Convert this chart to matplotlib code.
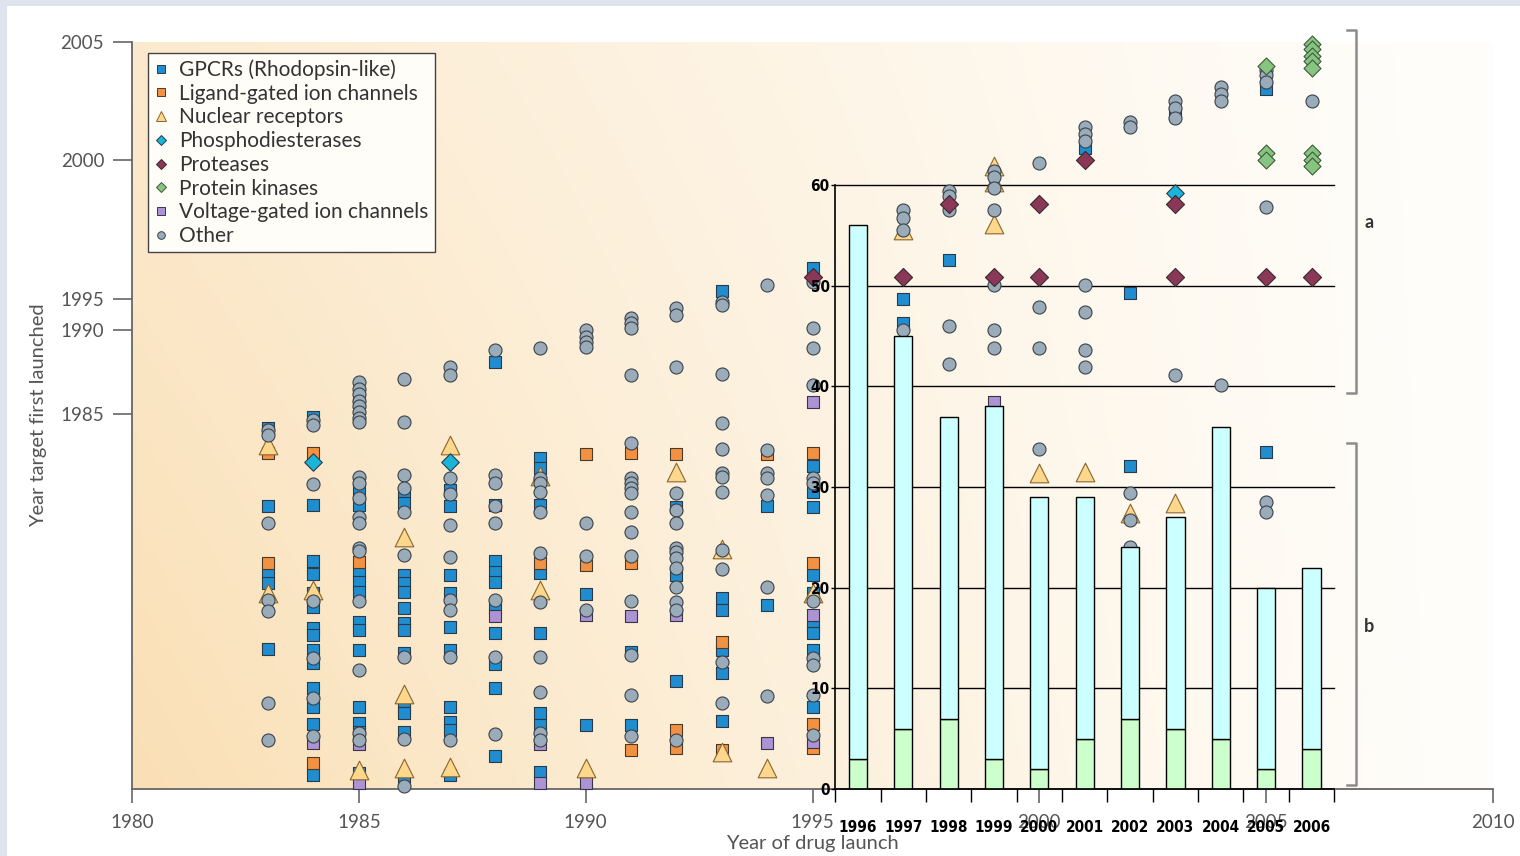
import numpy as np
import matplotlib.pyplot as plt
from matplotlib.lines import Line2D
from matplotlib.patches import Rectangle

plt.rcParams['font.family'] = ['Lato', 'DejaVu Sans']

# year of drug launch -> years the drug targets were first launched
gpcr = {
    1983: [1982.2, 1966.6, 1953.2, 1951.2, 1938.0],
    1984: [1984.4, 1966.8, 1955.6, 1953.0, 1949.2, 1946.4, 1942.2, 1940.8, 1937.8,
           1935.2, 1930.2, 1926.4, 1923.0, 1912.8],
    1985: [1985.7, 1969.8, 1966.8, 1953.4, 1951.4, 1949.4, 1943.4, 1941.8, 1937.8,
           1926.4, 1923.2, 1921.4, 1913.2],
    1986: [1969.2, 1967.2, 1952.8, 1951.2, 1949.4, 1946.2, 1943.2, 1941.8, 1937.2,
           1926.2, 1925.2, 1921.4, 1912.4],
    1987: [1969.8, 1966.6, 1952.8, 1949.2, 1942.4, 1937.8, 1926.4, 1923.4, 1921.8, 1912.8],
    1988: [1988.1, 1966.8, 1955.6, 1953.4, 1951.4, 1946.2, 1941.2, 1935.0, 1930.2, 1916.6],
    1989: [1976.2, 1974.2, 1966.8, 1953.2, 1941.2, 1925.2, 1922.8, 1913.4],
    1990: [1949.0, 1922.8],
    1991: [1937.4, 1922.8],
    1992: [1966.4, 1952.8, 1931.6],
    1993: [1995.3, 1948.2, 1945.8, 1937.8, 1933.2, 1923.6],
    1994: [1966.6, 1946.8],
    1995: [1996.1, 1974.6, 1969.4, 1966.4, 1952.8, 1949.2, 1942.4, 1941.2, 1937.8, 1926.4],
    1997: [1995.0, 1991.1],
    1998: [1996.4],
    2001: [2000.5],
    2002: [1995.2, 1974.6],
    2003: [2002.0],
    2005: [2003.0, 1977.4],
}

ligand_gated = {
    1983: [1977.2, 1955.2],
    1984: [1977.2, 1915.2],
    1985: [1955.4],
    1989: [1955.2],
    1990: [1977.0, 1954.8],
    1991: [1977.2, 1955.2, 1917.8],
    1992: [1977.0, 1921.8, 1918.2],
    1993: [1939.4, 1917.8],
    1994: [1977.0],
    1995: [1977.2, 1955.2, 1923.0, 1918.2],
}

nuclear = {
    1983: [1978.8, 1949.2],
    1984: [1949.8],
    1985: [1913.8],
    1986: [1960.4, 1929.0, 1914.2],
    1987: [1978.8, 1914.4],
    1989: [1972.6, 1949.8],
    1990: [1914.2],
    1992: [1973.4],
    1993: [1958.0, 1917.4],
    1994: [1914.2],
    1995: [1949.2],
    1997: [1997.5],
    1999: [1999.8, 1999.2, 1997.7],
    2000: [1973.2],
    2001: [1973.4],
    2002: [1965.2],
    2003: [1967.2],
}

pde = {
    1984: [1975.4],
    1987: [1975.4],
    2003: [1998.8],
}

proteases = {
    1995: [1995.8],
    1997: [1995.8],
    1998: [1998.4],
    1999: [1995.8],
    2000: [1998.4, 1995.8],
    2001: [2000.0],
    2003: [1998.4, 1995.8],
    2005: [1995.8],
    2006: [1995.8],
}

kinases = {
    2005: [2004.0, 2000.3, 2000.0],
    2006: [2004.9, 2004.7, 2004.4, 2004.2, 2003.9, 2000.3, 2000.0, 1999.8],
}

voltage_gated = {
    1984: [1919.2],
    1985: [1919.0, 1911.2],
    1988: [1944.6],
    1989: [1919.0, 1911.2],
    1990: [1944.8, 1911.2],
    1991: [1944.6],
    1992: [1944.8],
    1994: [1919.2],
    1995: [1985.7, 1944.8, 1919.4],
    1999: [1985.7],
}

other = {
    1983: [1981.8, 1980.8, 1963.2, 1947.8, 1945.6, 1927.2, 1919.8],
    1984: [1983.8, 1982.8, 1971.0, 1947.6, 1936.2, 1928.2, 1920.6],
    1985: [1986.9, 1986.5, 1986.2, 1985.8, 1985.5, 1985.1, 1984.2, 1983.4, 1972.4,
           1971.2, 1968.2, 1964.4, 1963.2, 1958.2, 1957.6, 1947.6, 1933.8, 1921.2, 1919.8],
    1986: [1987.1, 1983.4, 1972.8, 1970.2, 1965.4, 1956.8, 1936.4, 1920.0, 1910.6],
    1987: [1987.8, 1987.3, 1972.2, 1969.0, 1962.8, 1956.4, 1947.8, 1945.8, 1936.4, 1919.8],
    1988: [1988.8, 1972.8, 1971.2, 1966.6, 1963.2, 1947.8, 1936.4, 1921.0],
    1989: [1988.9, 1972.2, 1971.2, 1969.4, 1965.4, 1957.2, 1947.4, 1936.4, 1929.4,
           1921.2, 1919.8],
    1990: [1990.0, 1989.6, 1989.3, 1989.0, 1963.2, 1956.6, 1945.8],
    1991: [1991.9, 1991.1, 1990.3, 1987.3, 1979.2, 1972.2, 1971.2, 1970.2, 1969.2,
           1965.4, 1961.4, 1956.6, 1947.6, 1936.8, 1928.8, 1920.6],
    1992: [1993.5, 1992.4, 1987.8, 1969.2, 1965.8, 1963.2, 1958.2, 1957.4, 1956.2,
           1954.2, 1950.4, 1947.4, 1945.8, 1919.8],
    1993: [1994.5, 1994.0, 1987.4, 1983.2, 1978.0, 1973.2, 1972.4, 1969.4, 1957.8,
           1954.0, 1935.4, 1927.2],
    1994: [1995.5, 1977.8, 1973.2, 1972.2, 1968.8, 1950.4, 1928.6],
    1995: [1995.6, 1990.3, 1988.9, 1986.7, 1972.2, 1971.2, 1947.6, 1936.2, 1934.8,
           1928.8, 1920.8],
    1997: [1998.2, 1997.9, 1997.5, 1990.0],
    1998: [1998.9, 1998.7, 1998.2, 1990.6, 1988.0],
    1999: [1999.6, 1999.4, 1999.0, 1998.2, 1995.5, 1990.0, 1988.9],
    2000: [1999.9, 1993.7, 1988.9, 1978.0],
    2001: [2001.4, 2001.1, 2000.8, 1995.5, 1992.9, 1988.8, 1987.8],
    2002: [2001.6, 2001.4, 1969.2, 1963.8, 1958.4],
    2003: [2002.5, 2002.2, 2001.8, 1987.3],
    2004: [2003.1, 2002.8, 2002.5, 1986.7],
    2005: [2003.8, 2003.6, 2003.3, 1998.3, 1967.4, 1965.4],
    2006: [2002.5],
}

# inset: drugs launched per year (total, and the green part at the base)
bar_years = [1996, 1997, 1998, 1999, 2000, 2001, 2002, 2003, 2004, 2005, 2006]
bar_totals = [56, 45, 37, 38, 29, 29, 24, 27, 36, 20, 22]
bar_green = [3, 6, 7, 3, 2, 5, 7, 6, 5, 2, 4]

# the target-year axis is stretched piecewise
year_knots = [1910, 1985, 1990, 1995, 2000, 2005]
axis_knots = [0, 375, 459, 490, 629, 747]


def to_axis(y):
    return np.interp(y, year_knots, axis_knots)


def from_axis(p):
    return np.interp(p, axis_knots, year_knots)


series = [
    ('GPCRs (Rhodopsin-like)', gpcr, 's', '#1f8dcf', '#2b3a48', 80, 3),
    ('Ligand-gated ion channels', ligand_gated, 's', '#f29142', '#4a3a2a', 80, 3),
    ('Nuclear receptors', nuclear, '^', '#fdd78c', '#8a6630', 180, 4),
    ('Phosphodiesterases', pde, 'D', '#1ab3d9', '#2b3a48', 80, 6),
    ('Proteases', proteases, 'D', '#8b3858', '#3a2a30', 85, 6),
    ('Protein kinases', kinases, 'D', '#86c47f', '#3f5a3b', 75, 6),
    ('Voltage-gated ion channels', voltage_gated, 's', '#ab93d4', '#3a3448', 80, 3),
    ('Other', other, 'o', '#9aabb9', '#3b4249', 88, 5),
]

fig = plt.figure(figsize=(15.2, 8.56), dpi=100, facecolor='#dfe3ee')
fig.add_artist(Rectangle((7 / 1520, 0), 1 - 7 / 1520, 1 - 6 / 856,
                         transform=fig.transFigure, facecolor='white',
                         edgecolor='none', zorder=-10))

pos = [132 / 1520, 67 / 856, 1361 / 1520, 747 / 856]

# warm background wash, strongest at the lower left
bg = fig.add_axes(pos, zorder=-1)
u, v = np.meshgrid(np.linspace(0, 1, 400), np.linspace(0, 1, 250))
w = np.clip((1 - u) ** 1.15 * (1 - 0.35 * v), 0, 1)[..., None]
orange = np.array([0.98, 0.875, 0.71])
white = np.array([1.0, 0.996, 0.985])
bg.imshow(white + (orange - white) * w, origin='lower', aspect='auto',
          extent=(0, 1, 0, 1), interpolation='bilinear')
bg.axis('off')

ax = fig.add_axes(pos)
ax.patch.set_visible(False)
ax.set_yscale('function', functions=(to_axis, from_axis))

for label, data, marker, face, edge, size, z in series:
    xs = [yr for yr, vals in data.items() for _ in vals]
    ys = [val for vals in data.values() for val in vals]
    ax.scatter(xs, ys, marker=marker, s=size, facecolor=face, edgecolor=edge,
               linewidth=0.8, zorder=z, clip_on=False)

ax.set_xlim(1980, 2010)
ax.set_ylim(1910, 2005)
ax.set_xticks(range(1980, 2011, 5))
ax.set_yticks([1985, 1990, 1995, 2000, 2005])
ax.tick_params(axis='both', color='#666666', width=1.2, labelcolor='#555555',
               labelsize=13.5)
ax.tick_params(axis='x', length=10, pad=8)
ax.tick_params(axis='y', length=14, pad=6)
for side in ['top', 'right']:
    ax.spines[side].set_visible(False)
for side in ['left', 'bottom']:
    ax.spines[side].set_color('#666666')
    ax.spines[side].set_linewidth(1.3)

ax.set_ylabel('Year target first launched', fontsize=14.5, color='#555555')
ax.yaxis.set_label_coords(-0.0625, 0.5)
ax.set_xlabel('Year of drug launch', fontsize=14.5, color='#555555')
ax.xaxis.set_label_coords(0.5, -0.062)

handles = [Line2D([], [], linestyle='none', marker=m, markerfacecolor=f,
                  markeredgecolor=e, markeredgewidth=0.7,
                  markersize=7 if m == '^' else 5.5)
           for _, _, m, f, e, _, _ in series]
leg = ax.legend(handles, [s[0] for s in series], loc='upper left',
                bbox_to_anchor=(148 / 1520, 1 - 53 / 856),
                bbox_transform=fig.transFigure, borderaxespad=0,
                fontsize=15, frameon=True, fancybox=False, framealpha=1,
                handlelength=0.6, handletextpad=0.6, labelspacing=0.18,
                borderpad=0.3)
leg.get_frame().set_facecolor('#fffdf7')
leg.get_frame().set_edgecolor('#444444')
leg.get_frame().set_linewidth(1.0)
leg.set_zorder(10)
for t in leg.get_texts():
    t.set_color('#333333')

# inset bar chart sharing the launch-year positions
x0, x1 = 1995.5, 2006.5
ileft = pos[0] + (x0 - 1980) / 30 * pos[2]
iwidth = (x1 - x0) / 30 * pos[2]
inset = fig.add_axes([ileft, pos[1], iwidth, 604 / 856], zorder=2)
inset.patch.set_visible(False)
inset.set_xlim(x0, x1)
inset.set_ylim(0, 60)

for val in range(10, 61, 10):
    ax.plot([x0, x1], [val, val], transform=inset.transData,
            color='black', linewidth=1.0, zorder=1)

upper = [t - g for t, g in zip(bar_totals, bar_green)]
inset.bar(bar_years, bar_green, width=0.4, color='#ccffcc',
          edgecolor='black', linewidth=1.0)
inset.bar(bar_years, upper, bottom=bar_green, width=0.4, color='#ccffff',
          edgecolor='black', linewidth=1.0)

narrow = dict(family='DejaVu Sans', fontstretch='condensed',
              fontweight='bold', fontsize=11)
inset.set_yticks(range(0, 61, 10))
inset.set_yticklabels([str(t) for t in range(0, 61, 10)], **narrow)
inset.set_xticks(bar_years)
inset.set_xticklabels([str(y) for y in bar_years], **narrow)
inset.set_xticks(np.arange(x0, x1 + 0.01, 1.0), minor=True)
inset.tick_params(axis='y', length=3, pad=1, width=1, colors='black')
inset.tick_params(axis='x', which='major', length=0, pad=22, colors='black')
inset.tick_params(axis='x', which='minor', length=9, width=1, color='black')
for side in ['top', 'right']:
    inset.spines[side].set_visible(False)
for side in ['left', 'bottom']:
    inset.spines[side].set_color('black')
    inset.spines[side].set_linewidth(1.2)

# brackets marking the two panels
def px(x, y):
    return x / 1520, 1 - y / 856


for top, bottom in [(30, 393), (443, 785)]:
    xs, ys = zip(*[px(1347, top), px(1356, top), px(1356, bottom), px(1347, bottom)])
    fig.add_artist(Line2D(xs, ys, transform=fig.transFigure, color='#8c8c8c',
                          linewidth=1.8))
fig.text(*px(1369, 222), 'a', fontsize=13, fontweight='bold', color='#333333',
         ha='center', va='center')
fig.text(*px(1369, 626), 'b', fontsize=13, fontweight='bold', color='#333333',
         ha='center', va='center')

fig.savefig('out.png', dpi=100, facecolor=fig.get_facecolor())
